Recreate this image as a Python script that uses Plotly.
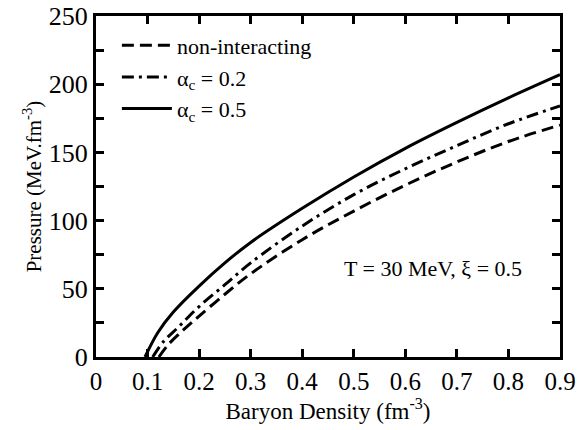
import plotly.graph_objects as go

# data
x_solid = [0.095, 0.12, 0.15, 0.2, 0.25, 0.3, 0.4, 0.5, 0.6, 0.7, 0.8, 0.9]
y_solid = [0, 18, 33, 52, 69, 84, 109, 132, 153, 172, 190, 207]

x_dashdot = [0.11, 0.13, 0.16, 0.2, 0.25, 0.3, 0.4, 0.5, 0.6, 0.7, 0.8, 0.9]
y_dashdot = [0, 11, 22, 37, 53, 69, 96, 119, 138, 155, 171, 184]

x_dash = [0.122, 0.14, 0.17, 0.2, 0.25, 0.3, 0.4, 0.5, 0.6, 0.7, 0.8, 0.9]
y_dash = [0, 9, 20, 30, 46, 61, 86, 107, 126, 143, 158, 170]

x_ticks = [0, 0.1, 0.2, 0.3, 0.4, 0.5, 0.6, 0.7, 0.8, 0.9]
x_ticktext = ["0", "0.1", "0.2", "0.3", "0.4", "0.5", "0.6", "0.7", "0.8", "0.9"]
y_ticks = [0, 50, 100, 150, 200, 250]
y_ticktext = ["0", "50", "100", "150", "200", "250"]
y_minor_step = 25

FONT = "Liberation Serif"

fig = go.Figure()
fig.add_trace(go.Scatter(x=x_dash, y=y_dash, mode="lines", name="non-interacting",
                         line=dict(color="black", width=3, dash="12px,6px", shape="spline")))
fig.add_trace(go.Scatter(x=x_dashdot, y=y_dashdot, mode="lines", name="α<sub>c</sub> = 0.2",
                         line=dict(color="black", width=3, dash="12px,5px,3px,5px", shape="spline")))
fig.add_trace(go.Scatter(x=x_solid, y=y_solid, mode="lines", name="α<sub>c</sub> = 0.5",
                         line=dict(color="black", width=3, shape="spline")))

axis_common = dict(showline=True, linecolor="black", linewidth=3, mirror="allticks",
                   ticks="inside", ticklen=8, tickwidth=3, tickcolor="black",
                   showgrid=False, zeroline=False, automargin=False)

fig.update_xaxes(range=[0, 0.9], tickvals=x_ticks, ticktext=x_ticktext,
                 tickfont=dict(family=FONT, size=25, color="black"),
                 title=dict(text="Baryon Density (fm<sup>-3</sup>)",
                            font=dict(family=FONT, size=23, color="black"), standoff=2),
                 **axis_common)
fig.update_yaxes(range=[0, 250], tickvals=y_ticks, ticktext=y_ticktext,
                 tickfont=dict(family=FONT, size=26, color="black"),
                 minor=dict(tickmode="linear", tick0=0, dtick=y_minor_step, ticks="inside",
                            ticklen=8, tickwidth=3, tickcolor="black", showgrid=False),
                 title=dict(text="Pressure (MeV.fm<sup>-3</sup>)",
                            font=dict(family=FONT, size=21, color="black"), standoff=2),
                 **axis_common)

fig.add_annotation(x=0.653, y=65, text="T = 30 MeV, ξ = 0.5", showarrow=False,
                   font=dict(family=FONT, size=22, color="black"))

fig.update_layout(
    width=587, height=430,
    margin=dict(l=96, r=27, t=16, b=73),
    paper_bgcolor="white", plot_bgcolor="white",
    legend=dict(x=0.045, y=0.975, xanchor="left", yanchor="top",
                bgcolor="rgba(0,0,0,0)", borderwidth=0, itemwidth=50,
                font=dict(family=FONT, size=22, color="black"),
                tracegroupgap=0),
    showlegend=True,
)

fig.write_html("out.html", config={"displayModeBar": False},
               post_script="document.body.style.margin='0';document.body.style.overflow='hidden';")
